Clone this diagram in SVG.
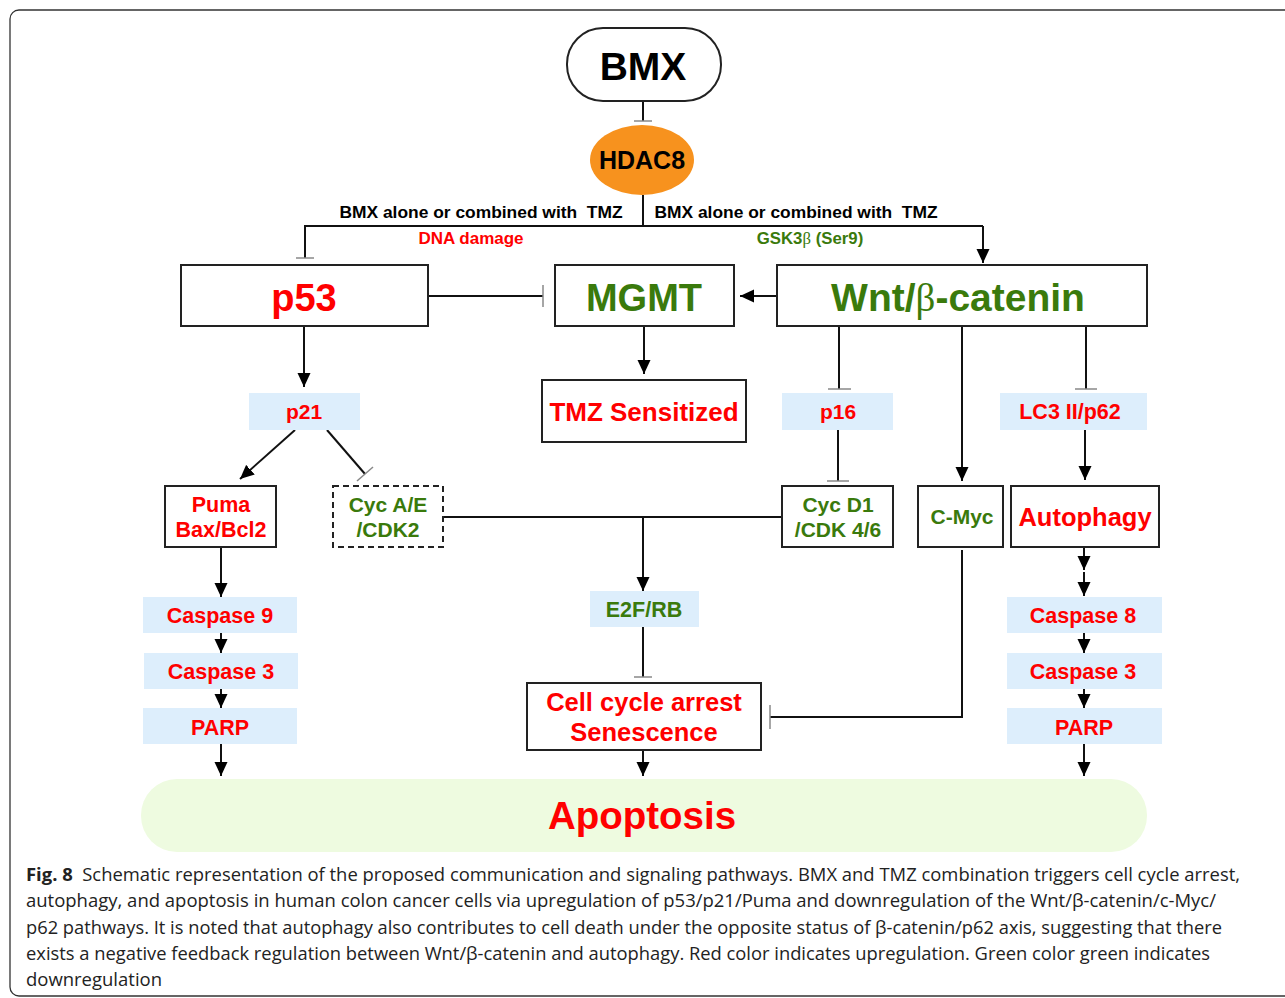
<svg xmlns="http://www.w3.org/2000/svg" width="1285" height="998" viewBox="0 0 1285 998">
<style>
.bx{fill:#fff;stroke:#222;stroke-width:2}
.bg{fill:#DDEEFC}
.t{font-family:"Liberation Sans",Arial,sans-serif;font-weight:bold;text-anchor:middle}
.r{fill:#FF0000}
.g{fill:#3A7A0C}
.k{fill:#000}
.sym{font-family:"Liberation Serif","Times New Roman",serif;font-weight:normal}
.ln{stroke:#111;stroke-width:2;fill:none}
.ar{stroke:#111;stroke-width:2;fill:none;marker-end:url(#ah)}
.bar{stroke:#888;stroke-width:1.5}
.cap{font-family:"Open Sans","Noto Sans",sans-serif;font-size:18.5px;fill:#222}
</style>
<defs>
<marker id="ah" viewBox="0 0 14 14" refX="14" refY="7" markerWidth="14" markerHeight="14" markerUnits="userSpaceOnUse" orient="auto">
<path d="M0,0.5 L14,7 L0,13.5 z" fill="#000"/>
</marker>
</defs>
<rect x="10" y="10" width="1290" height="986" rx="9" fill="none" stroke="#333" stroke-width="1.3"/>

<g id="connectors">
<line class="ln" x1="643" y1="101" x2="643" y2="121"/><line class="bar" x1="634" y1="121" x2="652" y2="121"/>
<polyline class="ln" points="643,195 643,226"/>
<polyline class="ln" points="305,258 305,226 983,226"/>
<line class="bar" x1="296" y1="258" x2="314" y2="258"/>
<line class="ar" x1="983" y1="226" x2="983" y2="263"/>
<line class="ln" x1="429" y1="296" x2="543" y2="296"/><line class="bar" x1="543" y1="285" x2="543" y2="307"/>
<line class="ar" x1="777" y1="296" x2="740" y2="296"/>
<line class="ar" x1="304" y1="326" x2="304" y2="387"/>
<line class="ar" x1="644" y1="326" x2="644" y2="374"/>
<line class="ln" x1="839" y1="326" x2="839" y2="389"/><line class="bar" x1="828" y1="389" x2="851" y2="389"/>
<line class="ar" x1="962" y1="326" x2="962" y2="481"/>
<line class="ln" x1="1086" y1="326" x2="1086" y2="389"/><line class="bar" x1="1075" y1="389" x2="1097" y2="389"/>
<line class="ln" x1="838" y1="430" x2="838" y2="481"/><line class="bar" x1="827" y1="481" x2="849" y2="481"/>
<line class="ar" x1="1085" y1="430" x2="1085" y2="480"/>
<line class="ar" x1="295" y1="430" x2="240" y2="479"/>
<line class="ln" x1="327" y1="430" x2="365" y2="474"/><line class="bar" x1="357" y1="481" x2="373" y2="467"/>
<line class="ln" x1="443" y1="517" x2="782" y2="517"/>
<line class="ar" x1="643" y1="517" x2="643" y2="591"/>
<line class="ln" x1="643" y1="627" x2="643" y2="677"/><line class="bar" x1="634" y1="677" x2="652" y2="677"/>
<polyline class="ln" points="962,550 962,717 770,717"/><line class="bar" x1="770" y1="705" x2="770" y2="729"/>
<line class="ar" x1="643" y1="750" x2="643" y2="776"/>
<line class="ar" x1="221" y1="547" x2="221" y2="597"/>
<line class="ar" x1="221" y1="633" x2="221" y2="653"/>
<line class="ar" x1="221" y1="689" x2="221" y2="708"/>
<line class="ar" x1="221" y1="744" x2="221" y2="776"/>
<line class="ar" x1="1084" y1="547" x2="1084" y2="570"/>
<line class="ar" x1="1084" y1="572" x2="1084" y2="596"/>
<line class="ar" x1="1084" y1="633" x2="1084" y2="653"/>
<line class="ar" x1="1084" y1="689" x2="1084" y2="708"/>
<line class="ar" x1="1084" y1="744" x2="1084" y2="776"/>
</g>

<g id="labels">
<text class="t k" x="481" y="218" font-size="17.4" xml:space="preserve">BMX alone or combined with  TMZ</text>
<text class="t k" x="796" y="218" font-size="17.4" xml:space="preserve">BMX alone or combined with  TMZ</text>
<text class="t r" x="471" y="244" font-size="17">DNA damage</text>
<text class="t g" x="810" y="244" font-size="16.8">GSK3<tspan class="sym">β</tspan> (Ser9)</text>
</g>

<g id="bmx"><rect class="bx" x="567" y="28" width="154" height="73" rx="36"/><text class="t k" x="643" y="80" font-size="39">BMX</text></g>
<g id="hdac8"><ellipse cx="642" cy="160" rx="52" ry="35" fill="#F7921E"/><text class="t k" x="642" y="169" font-size="25">HDAC8</text></g>
<g id="p53"><rect class="bx" x="181" y="265" width="247" height="61"/><text class="t r" x="304" y="311" font-size="38">p53</text></g>
<g id="mgmt"><rect class="bx" x="555" y="265" width="179" height="61"/><text class="t g" x="644" y="311" font-size="38">MGMT</text></g>
<g id="wnt"><rect class="bx" x="777" y="265" width="370" height="61"/><text class="t g" x="958" y="311" font-size="39">Wnt/<tspan class="sym">β</tspan>-catenin</text></g>
<g id="tmz"><rect class="bx" x="542" y="380" width="204" height="62"/><text class="t r" x="644" y="421" font-size="26">TMZ Sensitized</text></g>
<g id="p21"><rect class="bg" x="249" y="393" width="111" height="37"/><text class="t r" x="304" y="419" font-size="21">p21</text></g>
<g id="p16"><rect class="bg" x="782" y="393" width="111" height="37"/><text class="t r" x="838" y="419" font-size="21">p16</text></g>
<g id="lc3"><rect class="bg" x="1000" y="393" width="147" height="37"/><text class="t r" x="1070" y="419" font-size="21.5">LC3 II/p62</text></g>
<g id="puma"><rect class="bx" x="165" y="486" width="111" height="61"/><text class="t r" x="221" y="512" font-size="21.5">Puma</text><text class="t r" x="221" y="537" font-size="21.5">Bax/Bcl2</text></g>
<g id="cycae"><rect class="bx" x="333" y="486" width="110" height="61" stroke-dasharray="6,4"/><text class="t g" x="388" y="512" font-size="21">Cyc A/E</text><text class="t g" x="388" y="537" font-size="21">/CDK2</text></g>
<g id="cycd1"><rect class="bx" x="782" y="486" width="111" height="61"/><text class="t g" x="838" y="512" font-size="21">Cyc D1</text><text class="t g" x="838" y="537" font-size="21">/CDK 4/6</text></g>
<g id="cmyc"><rect class="bx" x="918" y="486" width="85" height="61"/><text class="t g" x="962" y="524" font-size="21">C-Myc</text></g>
<g id="autophagy"><rect class="bx" x="1011" y="486" width="148" height="61"/><text class="t r" x="1085" y="526" font-size="25.5">Autophagy</text></g>
<g id="e2f"><rect class="bg" x="590" y="591" width="109" height="36"/><text class="t g" x="644" y="617" font-size="21.5">E2F/RB</text></g>
<g id="cellcycle"><rect class="bx" x="527" y="683" width="234" height="67"/><text class="t r" x="644" y="711" font-size="25.5">Cell cycle arrest</text><text class="t r" x="644" y="741" font-size="25.5">Senescence</text></g>
<g id="casp9"><rect class="bg" x="143" y="597" width="154" height="36"/><text class="t r" x="220" y="623" font-size="21.5">Caspase 9</text></g>
<g id="casp3l"><rect class="bg" x="144" y="653" width="154" height="36"/><text class="t r" x="221" y="679" font-size="21.5">Caspase 3</text></g>
<g id="parpl"><rect class="bg" x="143" y="708" width="154" height="36"/><text class="t r" x="220" y="735" font-size="21.5">PARP</text></g>
<g id="casp8"><rect class="bg" x="1007" y="597" width="155" height="36"/><text class="t r" x="1083" y="623" font-size="21.5">Caspase 8</text></g>
<g id="casp3r"><rect class="bg" x="1007" y="653" width="155" height="36"/><text class="t r" x="1083" y="679" font-size="21.5">Caspase 3</text></g>
<g id="parpr"><rect class="bg" x="1007" y="708" width="155" height="36"/><text class="t r" x="1084" y="735" font-size="21.5">PARP</text></g>
<g id="apoptosis"><rect x="141" y="779" width="1006" height="73" rx="36" fill="#EEFBE0"/><text class="t r" x="642" y="829" font-size="38.5">Apoptosis</text></g>

<g id="caption">
<text class="cap" x="26" y="881" textLength="1214" lengthAdjust="spacingAndGlyphs" xml:space="preserve"><tspan font-weight="bold">Fig. 8</tspan>  Schematic representation of the proposed communication and signaling pathways. BMX and TMZ combination triggers cell cycle arrest,</text>
<text class="cap" x="26" y="907" textLength="1190" lengthAdjust="spacingAndGlyphs">autophagy, and apoptosis in human colon cancer cells via upregulation of p53/p21/Puma and downregulation of the Wnt/β-catenin/c-Myc/</text>
<text class="cap" x="26" y="934" textLength="1196" lengthAdjust="spacingAndGlyphs">p62 pathways. It is noted that autophagy also contributes to cell death under the opposite status of β-catenin/p62 axis, suggesting that there</text>
<text class="cap" x="26" y="960" textLength="1184" lengthAdjust="spacingAndGlyphs">exists a negative feedback regulation between Wnt/β-catenin and autophagy. Red color indicates upregulation. Green color green indicates</text>
<text class="cap" x="26" y="986" textLength="136" lengthAdjust="spacingAndGlyphs">downregulation</text>
</g>
</svg>
